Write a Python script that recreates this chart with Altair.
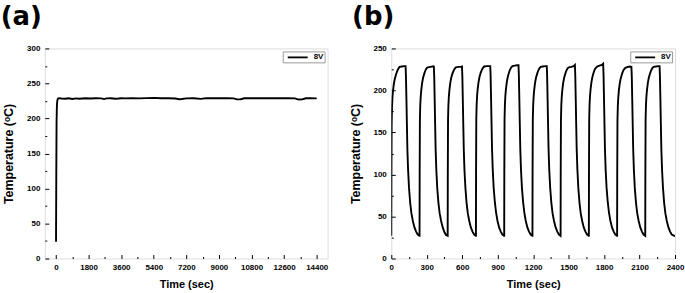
import altair as alt
import pandas as pd

# ---------------- Panel (a): long-term stability at 8 V ----------------
a_time = [0, 15, 30, 45, 60, 80, 100, 150, 300, 500, 700, 900, 1100, 1300, 1600,
          1900, 2200, 2500, 2650, 2800, 3000, 3300, 3450, 3600, 3800, 4200, 4600,
          5000, 5400, 5800, 6200, 6600, 6800, 6950, 7200, 7600, 8000, 8100, 8300,
          8700, 9100, 9500, 9800, 10000, 10200, 10400, 10800, 11200, 11600, 12000,
          12400, 12800, 13200, 13400, 13600, 13800, 14000, 14400]
a_temp = [24, 120, 195, 215, 223, 226.5, 228, 229, 228.5, 228.2, 228.9, 227.8, 228.6,
          228.2, 228.8, 228.4, 228.9, 228.6, 227.6, 228.7, 228.9, 228.1, 228.4, 228.8,
          228.6, 229.0, 228.7, 229.0, 229.4, 228.8, 228.9, 228.5, 227.5, 227.8, 228.7,
          228.9, 228.0, 228.4, 228.9, 228.8, 229.0, 228.9, 228.7, 227.2, 227.4, 228.8,
          228.9, 228.8, 229.0, 228.9, 228.8, 228.9, 228.6, 227.0, 227.3, 228.8, 228.9,
          228.7]

# ---------------- Panel (b): on/off cycling at 8 V ----------------
b_cycle_start = [0, 239, 477, 716, 955, 1194, 1432, 1671, 1910, 2148]
b_cycle_rel = [0, 1, 3, 6, 10, 15, 22, 30, 40, 50, 60, 70, 90, 110, 121, 124, 128,
               132, 136, 142, 150, 160, 170, 182, 196, 210, 224, 238]
b_cycle_temp = [
    [27, 95, 160, 180, 192, 200, 208, 214, 219, 223, 226, 228, 228.5, 229, 229, 217, 190, 160, 131, 106, 84, 66, 54, 45, 37, 32, 28.5, 27],
    [27, 100, 165, 182, 193, 201, 209, 215, 220, 224, 226.5, 227.5, 228, 228.5, 228.5, 217, 189, 159, 130, 105, 83, 66, 54, 45, 37, 31.5, 28, 27],
    [27, 100, 165, 182, 193, 201, 209, 215, 220, 223.5, 226, 227.5, 228, 228, 228.5, 217, 189, 159, 130, 105, 84, 66, 54, 45, 37, 32, 28.5, 27],
    [27, 100, 166, 183, 194, 202, 210, 216, 221, 224.5, 227, 228.5, 229, 229, 229, 218, 190, 160, 131, 106, 84, 67, 55, 45, 37, 32, 28.5, 27],
    [27, 101, 166, 183, 194, 202, 210, 216, 221, 225, 227.5, 229, 229.5, 230, 230, 218, 190, 160, 131, 106, 84, 67, 55, 45, 37, 32, 28.5, 27],
    [27, 100, 165, 182, 193, 201, 209, 215, 220, 224, 226.5, 228, 228.5, 229, 229, 218, 190, 160, 131, 106, 84, 66, 54, 45, 37, 32, 28.5, 27],
    [27, 100, 165, 182, 193, 201, 209, 215, 220, 224, 226.5, 227.5, 228, 229, 230.5, 219, 190, 160, 131, 106, 84, 66, 54, 45, 37, 32, 28.5, 27],
    [27, 101, 166, 183, 194, 202, 210, 216, 221, 225, 227, 228.5, 229.5, 230.5, 232, 220, 191, 161, 131, 106, 84, 67, 55, 45, 37, 32, 28.5, 27],
    [27, 99, 164, 181, 192, 200, 208, 214, 219, 223, 225.5, 227, 228, 228.5, 228, 217, 189, 159, 130, 105, 83, 66, 54, 45, 37, 32, 28.5, 27],
    [27, 100, 165, 182, 193, 201, 209, 215, 220, 224, 226.5, 228, 228.5, 229, 229, 218, 190, 160, 131, 106, 84, 66, 54, 45, 37, 32, 28.5, 27.5],
]
b_tail_time = [2400]
b_tail_temp = [26.5]

series_name = "8V"

a_x_ticks = list(range(0, 14401, 900))
a_y_ticks = list(range(0, 301, 25))
b_x_ticks = list(range(0, 2401, 150))
b_y_ticks = list(range(0, 251, 25))

# ---------------- tables ----------------
df_a = pd.DataFrame({"t": a_time, "T": a_temp, "s": series_name})
b_t, b_T = [], []
for start, temps in zip(b_cycle_start, b_cycle_temp):
    for r, v in zip(b_cycle_rel, temps):
        b_t.append(start + r)
        b_T.append(v)
b_t += b_tail_time
b_T += b_tail_temp
df_b = pd.DataFrame({"t": b_t, "T": b_T, "s": series_name})

FONT = "Liberation Sans"


def axis(vals, major, title, title_size, title_pad):
    return alt.Axis(
        values=vals,
        labelExpr=f"datum.value % {major} === 0 ? datum.label : ''",
        format="d",
        tickSize={"expr": f"datum.value % {major} === 0 ? -4 : -2"},
        tickColor="black", tickWidth=1,
        domain=False, grid=False,
        labelFont=FONT, labelFontSize=8, labelFontWeight="bold", labelColor="black",
        labelPadding=9, labelFlush=False, labelOverlap=False,
        title=title, titleFont=FONT, titleFontSize=title_size, titleFontWeight="bold",
        titleColor="black", titlePadding=title_pad,
    )


def legend():
    return alt.Legend(
        title=None, orient="top-right", offset=3, padding=1,
        strokeColor="#999999", fillColor="white",
        symbolType="M-2.5,0H2.5", symbolSize=64, symbolStrokeWidth=1.8,
        symbolStrokeColor="black", symbolOffset=9,
        labelFont=FONT, labelFontSize=8, labelFontWeight="bold", labelColor="black",
        labelOffset=11,
    )


def panel(df, xdom, xvals, xmajor, ydom, yvals, w, h, label, dx):
    return alt.Chart(df).mark_line(strokeWidth=1.9, clip=True).encode(
        x=alt.X("t:Q", scale=alt.Scale(domain=xdom, nice=False, zero=False),
                axis=axis(xvals, xmajor, "Time (sec)", 11, 5)),
        y=alt.Y("T:Q", scale=alt.Scale(domain=ydom, nice=False),
                axis=axis(yvals, 50, "Temperature (ᵒC)", 12.5, 11)),
        color=alt.Color("s:N", scale=alt.Scale(domain=[series_name], range=["black"]),
                        legend=legend()),
        order="t:Q",
    ).properties(
        width=w, height=h,
        title=alt.TitleParams(label, anchor="start", frame="bounds", font="DejaVu Sans",
                              fontSize=26, fontWeight="bold", color="black",
                              baseline="alphabetic", offset=-6, dx=dx),
    )


pa = panel(df_a, [-620, 15000], a_x_ticks, 1800, [0, 300], a_y_ticks, 284, 211, "(a)", -2)
pb = panel(df_b, [0, 2400], b_x_ticks, 300, [0, 250], b_y_ticks, 285, 211, "(b)", 3)

chart = alt.hconcat(pa, pb, spacing=20).resolve_scale(color="independent").resolve_legend(
    color="independent"
).properties(
    padding={"left": 0, "top": 2, "right": 0, "bottom": 0},
).configure_view(stroke="black", strokeWidth=1).configure(background="white")

chart.save("out.html", embed_options={"renderer": "svg", "actions": False})
